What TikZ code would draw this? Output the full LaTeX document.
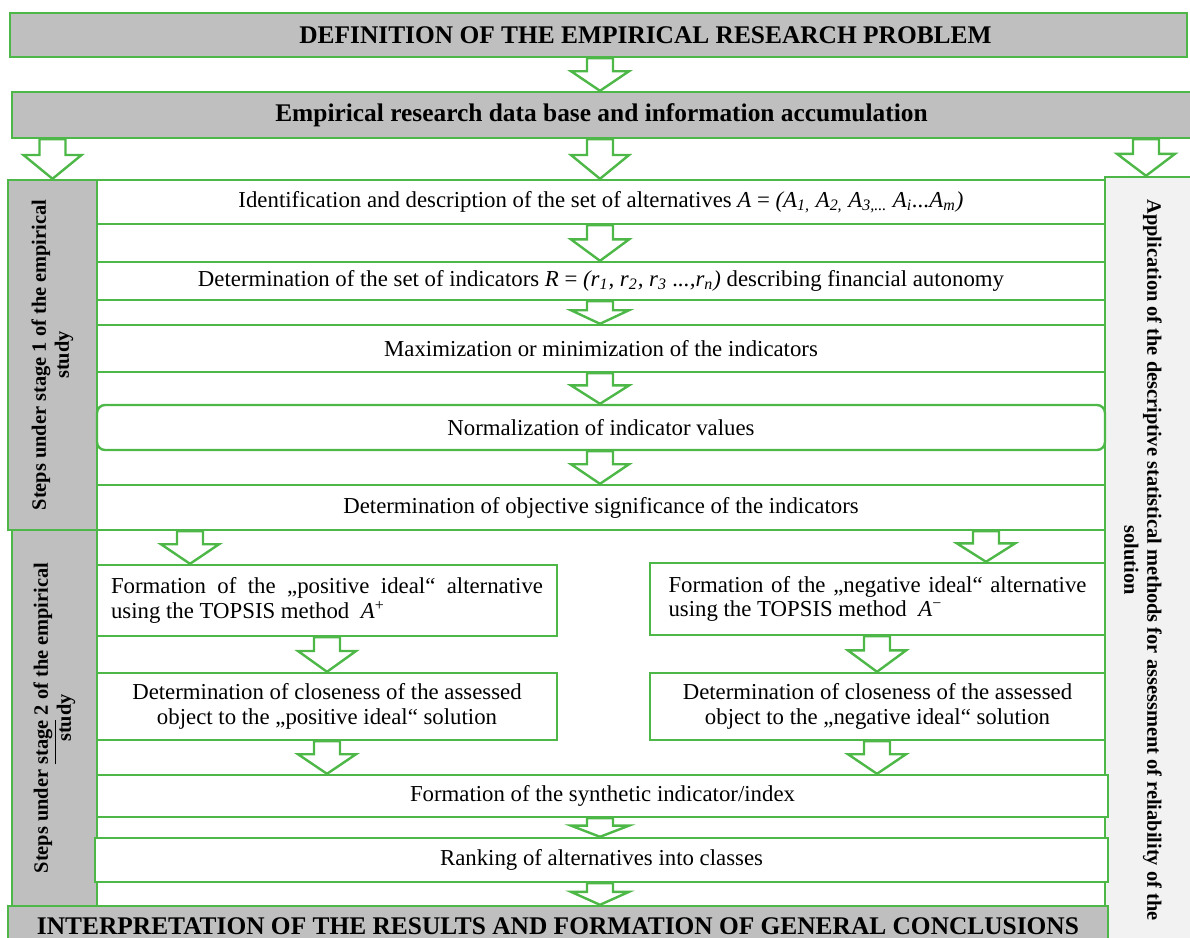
\documentclass[tikz,border=0pt]{standalone}
\usepackage{fontspec}
\setmainfont{Liberation Serif}
\usetikzlibrary{calc}

\definecolor{boxgreen}{HTML}{4DB848}
\definecolor{boxgray}{HTML}{BFBFBF}
\definecolor{sidegray}{HTML}{F2F2F2}

% 白抜きの矢印 (x, 上のノード, 下のノード)
\newcommand{\flowarrow}[3]{%
  \draw[flowarr] let \p1=(#1,0), \p2=(#2.south), \p3=(#3.north), \n1={0.6*(\y2-\y3)} in
    (\x1-6.5pt,\y2) -- (\x1-6.5pt,\y3+\n1) -- (\x1-14.5pt,\y3+\n1) -- (\x1,\y3)
    -- (\x1+14.5pt,\y3+\n1) -- (\x1+6.5pt,\y3+\n1) -- (\x1+6.5pt,\y2) -- cycle;}

\begin{document}
\begin{tikzpicture}[x=0.5pt, y=-0.5pt, line width=1.2pt,
    box/.style={draw=boxgreen, fill=white, minimum width=504pt, font=\fontsize{11.4}{12.2}\selectfont,
      execute at begin node={\hyphenpenalty=10000}},
    halfbox/.style={box, minimum width=230pt, minimum height=35.5pt},
    headbox/.style={draw=boxgreen, fill=boxgray, font=\fontsize{12.7}{14}\selectfont\bfseries},
    sidebox/.style={draw=boxgreen, fill=boxgray},
    sidetext/.style={font=\fontsize{10.2}{11.5}\selectfont\bfseries, align=center},
    flowarr/.style={draw=boxgreen, fill=white, line join=miter}]
    \useasboundingbox (0,0) rectangle (1190,938);

    % 左右の列
    \node[draw=boxgreen, fill=sidegray, minimum width=43.5pt, minimum height=381.5pt] (appl) at (1148.5,558.5) {};
    \node[sidetext, rotate=-90] at (1143,560) {Application of the descriptive statistical methods for assessment of reliability of the\\solution};
    \node[sidebox, minimum width=44.5pt, minimum height=175pt] (stage1) at (52.5,355) {};
    \node[sidetext, rotate=90] at (stage1) {Steps under stage 1 of the empirical\\study};
    \node[sidebox, minimum width=42.5pt, minimum height=188pt] (stage2) at (54.5,718) {};
    \node[sidetext, rotate=90] at (stage2) {Steps under \underline{stage} 2 of the empirical\\study};

    % ノード
    \node[headbox, minimum width=588.5pt, minimum height=22pt] (defn) at (598.5,35) {\hspace*{47pt}DEFINITION OF THE EMPIRICAL RESEARCH PROBLEM};
    \node[headbox, minimum width=589.5pt, minimum height=23pt] (base) at (601.5,115) {Empirical research data base and information accumulation};
    \node[box, minimum height=22pt] (ident) at (601,202) {Identification and description of the set of alternatives \textit{A} = \textit{(A\textsubscript{1,} A\textsubscript{2,} A\textsubscript{3,...} A\textsubscript{i}...A\textsubscript{m})}};
    \node[box, minimum height=19pt] (indic) at (601,281) {Determination of the set of indicators \textit{R} = \textit{(r\textsubscript{1}, r\textsubscript{2}, r\textsubscript{3} ...,r\textsubscript{n})} describing financial autonomy};
    \node[box, minimum height=23.5pt] (maxim) at (601,348.5) {Maximization or minimization of the indicators};
    \node[box, rounded corners=4pt, minimum height=22.5pt] (norm) at (601,427.5) {Normalization of indicator values};
    \node[box, minimum height=22.5pt] (signif) at (601,507.5) {Determination of objective significance of the indicators};
    \node[halfbox, text width=216pt, align=justify] (posform) at (327,600.5) {Formation of the „positive ideal“ alternative using the TOPSIS method~ \textit{A}\textsuperscript{+}};
    \node[halfbox, minimum width=227.5pt, minimum height=36pt, text width=209pt, align=justify] (negform) at (877.5,599) {Formation of the „negative ideal“ alternative using the TOPSIS method~ \textit{A}\textsuperscript{−}};
    \node[halfbox, minimum height=33.5pt, align=center] (posclose) at (327,706.5) {Determination of closeness of the assessed\\object to the „positive ideal“ solution};
    \node[halfbox, minimum width=227.5pt, minimum height=33.5pt, align=center] (negclose) at (877.5,706.5) {Determination of closeness of the assessed\\object to the „negative ideal“ solution};
    \node[box, minimum width=505.5pt, minimum height=21pt] (synth) at (602.5,796) {Formation of the synthetic indicator/index};
    \node[box, minimum width=506.5pt, minimum height=22pt] (rank) at (601.5,860) {Ranking of alternatives into classes};
    \node[headbox, minimum width=550pt, minimum height=20pt] (interp) at (558,926) {INTERPRETATION OF THE RESULTS AND FORMATION OF GENERAL CONCLUSIONS};

    % 矢印
    \flowarrow{600}{defn}{base}
    \flowarrow{52.5}{base}{stage1}
    \flowarrow{600}{base}{ident}
    \flowarrow{1146}{base}{appl}
    \flowarrow{600}{ident}{indic}
    \flowarrow{600}{indic}{maxim}
    \flowarrow{600}{maxim}{norm}
    \flowarrow{600}{norm}{signif}
    \flowarrow{190}{signif}{posform}
    \flowarrow{986}{signif}{negform}
    \flowarrow{327}{posform}{posclose}
    \flowarrow{877}{negform}{negclose}
    \flowarrow{327}{posclose}{synth}
    \flowarrow{877}{negclose}{synth}
    \flowarrow{600}{synth}{rank}
    \flowarrow{600}{rank}{interp}
\end{tikzpicture}
\end{document}
